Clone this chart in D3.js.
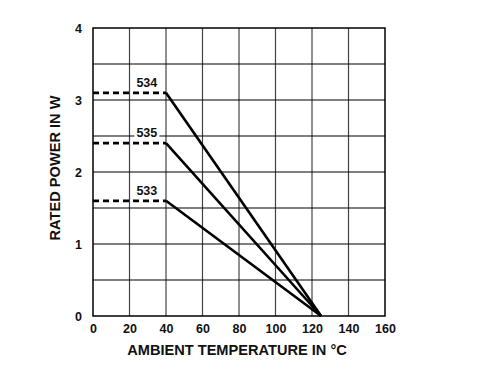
<!DOCTYPE html>
<html>
<head>
<meta charset="utf-8">
<script src="https://cdn.jsdelivr.net/npm/d3@7"></script>
<style>
  body { margin: 0; background: #fff; }
  text { font-family: "Liberation Sans", Arial, sans-serif; font-weight: bold; }
</style>
</head>
<body>
<svg></svg>
<script>
const series = ["534", "535", "533"];
const ratedPower = [3.1, 2.4, 1.6];
const kneeTemp = 40;
const zeroTemp = 125;
const xTicks = [0, 20, 40, 60, 80, 100, 120, 140, 160];
const yTicks = [0, 1, 2, 3, 4];

const width = 478;
const height = 380;
const svg = d3.select("svg")
    .attr("width", width)
    .attr("height", height);

const margin = { top: 28, right: 93, bottom: 64, left: 93 };
const chartWidth = width - margin.left - margin.right;
const chartHeight = height - margin.top - margin.bottom;

const x = d3.scaleLinear().domain([0, 160]).range([0, chartWidth]);
const y = d3.scaleLinear().domain([0, 4]).range([chartHeight, 0]);

const g = svg.append("g")
    .attr("transform", `translate(${margin.left},${margin.top})`);

// grid
g.selectAll("line.vgrid")
    .data(d3.range(20, 160, 20))
    .enter().append("line")
    .attr("x1", d => x(d)).attr("x2", d => x(d))
    .attr("y1", 0).attr("y2", chartHeight)
    .attr("stroke", "#444").attr("stroke-width", 1.2);

g.selectAll("line.hgrid")
    .data(d3.range(0.5, 4, 0.5))
    .enter().append("line")
    .attr("x1", 0).attr("x2", chartWidth)
    .attr("y1", d => y(d)).attr("y2", d => y(d))
    .attr("stroke", "#000").attr("stroke-width", 1.2);

g.append("rect")
    .attr("width", chartWidth).attr("height", chartHeight)
    .attr("fill", "none").attr("stroke", "#000").attr("stroke-width", 1.5);

// axes (tick labels only)
const xAxis = g.append("g")
    .attr("transform", `translate(0,${chartHeight})`)
    .call(d3.axisBottom(x).tickValues(xTicks).tickFormat(d3.format("d")).tickSize(0).tickPadding(8));
xAxis.select(".domain").remove();
xAxis.selectAll("text").attr("font-size", 12.5).attr("fill", "#111")
    .style("font-family", "Liberation Sans, Arial, sans-serif");

const yAxis = g.append("g")
    .call(d3.axisLeft(y).tickValues(yTicks).tickFormat(d3.format("d")).tickSize(0).tickPadding(11));
yAxis.select(".domain").remove();
yAxis.selectAll("text").attr("font-size", 12.5).attr("fill", "#111")
    .style("font-family", "Liberation Sans, Arial, sans-serif");

// curves
series.forEach((name, i) => {
    const p = ratedPower[i];
    g.append("line")
        .attr("x1", x(0)).attr("x2", x(kneeTemp))
        .attr("y1", y(p)).attr("y2", y(p))
        .attr("stroke", "#000").attr("stroke-width", 2.8)
        .attr("stroke-dasharray", "6,4");
    g.append("line")
        .attr("x1", x(kneeTemp)).attr("x2", x(zeroTemp))
        .attr("y1", y(p)).attr("y2", y(0))
        .attr("stroke", "#000").attr("stroke-width", 2.6);

    const bg = g.append("rect").attr("fill", "#fff");
    const lbl = g.append("text")
        .attr("x", x(29.5)).attr("y", y(p) - 6)
        .attr("text-anchor", "middle")
        .attr("font-size", 12.5).attr("fill", "#111")
        .text(name);
    const bb = lbl.node().getBBox();
    bg.attr("x", bb.x - 2).attr("y", bb.y)
        .attr("width", bb.width + 4).attr("height", bb.height);
});

// titles
svg.append("text")
    .attr("x", margin.left + chartWidth / 2 - 2).attr("y", 355)
    .attr("text-anchor", "middle").attr("font-size", 14.6).attr("fill", "#111")
    .text("AMBIENT TEMPERATURE IN °C");

svg.append("text")
    .attr("transform", `translate(60,${margin.top + chartHeight / 2 - 4}) rotate(-90)`)
    .attr("text-anchor", "middle").attr("font-size", 14.6).attr("fill", "#111")
    .text("RATED POWER IN W");
</script>
</body>
</html>
